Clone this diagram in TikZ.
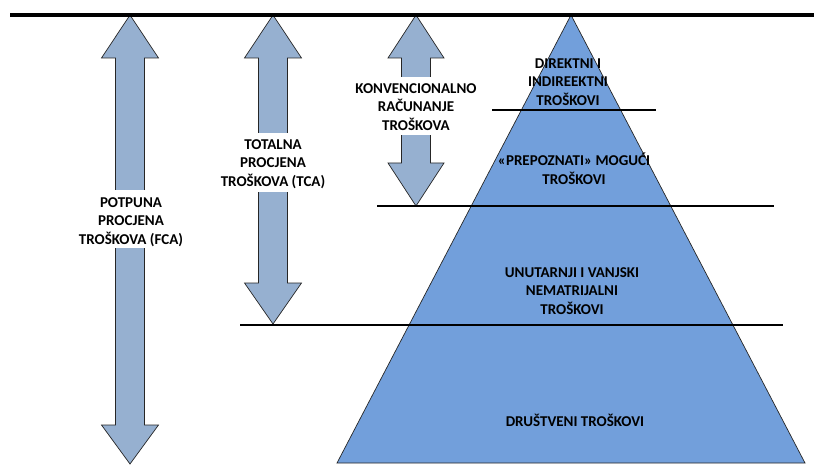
\documentclass[tikz,border=0pt]{standalone}
\usepackage{fontspec}
\setmainfont{Carlito}[BoldFont={Carlito Bold}]
\definecolor{arrowblue}{RGB}{150,176,208}
\definecolor{pyrblue}{RGB}{114,159,219}
\tikzset{
  arr/.style={fill=arrowblue, draw=black!85, line width=0.7pt, line join=miter},
  gapbox/.style={fill=white},
  pyr/.style={fill=pyrblue, draw=black!85, line width=0.7pt},
  sepline/.style={line width=2pt},
  lbl/.style={font=\bfseries\fontsize{15}{18.5}\selectfont, align=center, inner sep=0pt, text=black},
}
\begin{document}
\begin{tikzpicture}[x=1pt,y=-1pt]
\useasboundingbox (0,0) rectangle (814,465);
% double arrows
\draw[arr] (130,15) -- (158.5,58) -- (144.5,58) -- (144.5,425) -- (158.5,425) -- (130,464) -- (101.5,425) -- (115.5,425) -- (115.5,58) -- (101.5,58) -- cycle;
\draw[arr] (273,15) -- (301.5,58) -- (287.5,58) -- (287.5,283) -- (301.5,283) -- (273,324) -- (244.5,283) -- (258.5,283) -- (258.5,58) -- (244.5,58) -- cycle;
\draw[arr] (416,15) -- (444,58) -- (430.5,58) -- (430.5,163) -- (444,163) -- (416,206) -- (388,163) -- (401.5,163) -- (401.5,58) -- (388,58) -- cycle;
% gaps for labels
\fill[gapbox] (113,190) rectangle (147,248);
\fill[gapbox] (256,133) rectangle (290,192);
\fill[gapbox] (399,77) rectangle (433,135);
% pyramid
\draw[pyr] (571,15) -- (805,463) -- (337,463) -- cycle;
% separator lines
\draw[sepline] (492,110.5) -- (656,110.5);
\draw[sepline] (377,206) -- (774,206);
\draw[sepline] (240,325) -- (783,325);
\draw[line width=3.5pt] (10,15) -- (814,15);
% labels
\node[lbl] (fca) at (131,222) {POTPUNA\\PROCJENA\\TROŠKOVA (FCA)};
\node[lbl] (tca) at (273,164) {TOTALNA\\PROCJENA\\TROŠKOVA (TCA)};
\node[lbl] (kon) at (416,107) {KONVENCIONALNO\\RAČUNANJE\\TROŠKOVA};
\node[lbl] (dir) at (568,82) {DIREKTNI I\\INDIREEKTNI\\TROŠKOVI};
\node[lbl] (pre) at (574,169) {«PREPOZNATI» MOGUĆI\\TROŠKOVI};
\node[lbl] (unu) at (572,291) {UNUTARNJI I VANJSKI\\NEMATRIJALNI\\TROŠKOVI};
\node[lbl] (dru) at (575,420) {DRUŠTVENI TROŠKOVI};
\end{tikzpicture}
\end{document}
